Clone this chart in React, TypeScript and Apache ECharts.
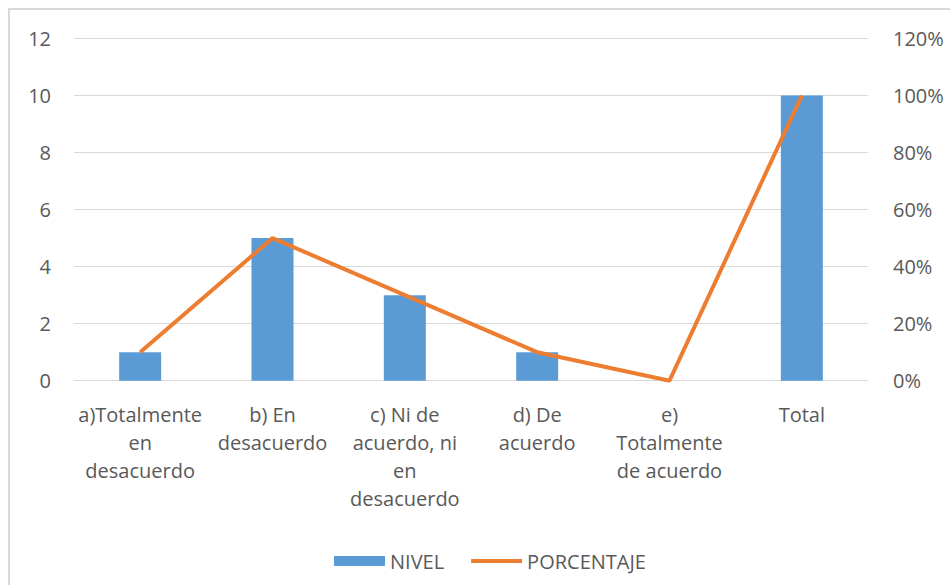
import React, { useEffect, useRef } from "react";
import * as echarts from "echarts";

const categories = [
  "a)Totalmente\nen\ndesacuerdo",
  "b) En\ndesacuerdo",
  "c) Ni de\nacuerdo, ni\nen\ndesacuerdo",
  "d) De\nacuerdo",
  "e)\nTotalmente\nde acuerdo",
  "Total",
];
const nivel = [1, 5, 3, 1, 0, 10];
const porcentaje = [0.1, 0.5, 0.3, 0.1, 0, 1.0];

const FONT = "'Open Sans', sans-serif";
const TXT = "#595959";
const GRID = "#d9d9d9";
const ORANGE = "#ED7D31";
const BLUE = "#5B9BD5";

export default function App() {
  const ref = useRef<HTMLDivElement>(null);
  useEffect(() => {
    if (!ref.current) return;
    const chart = echarts.init(ref.current, undefined, { renderer: "svg" });
    chart.setOption({
      animation: false,
      textStyle: { fontFamily: FONT },
      grid: { left: 64, right: 82, top: 28.5, bottom: 204.3, containLabel: false },
      legend: {
        left: 319,
        top: 536,
        itemWidth: 51,
        itemHeight: 10,
        itemGap: 27,
        textStyle: { fontFamily: FONT, fontSize: 20, color: TXT },
        data: [
          { name: "NIVEL", icon: "rect" },
          {
            name: "PORCENTAJE",
            icon: "path://M0,0 M0,3 L51,3 L51,7 L0,7 Z M51,10",
            itemStyle: { color: ORANGE, borderWidth: 0 },
          },
        ],
      },
      xAxis: {
        type: "category",
        data: categories,
        axisLine: { lineStyle: { color: GRID, width: 1 } },
        axisTick: { show: false },
        axisLabel: {
          interval: 0,
          margin: 20,
          fontFamily: FONT,
          fontSize: 20,
          lineHeight: 28,
          color: TXT,
          align: "center",
        },
      },
      yAxis: [
        {
          type: "value",
          min: 0,
          max: 12,
          interval: 2,
          axisLine: { show: false },
          axisTick: { show: false },
          splitLine: { lineStyle: { color: GRID, width: 1 } },
          axisLabel: { margin: 23, fontFamily: FONT, fontSize: 20, color: TXT },
        },
        {
          type: "value",
          min: 0,
          max: 1.2,
          interval: 0.2,
          axisLine: { show: false },
          axisTick: { show: false },
          splitLine: { show: false },
          axisLabel: {
            margin: 25,
            fontFamily: FONT,
            fontSize: 20,
            color: TXT,
            formatter: (v: number) => Math.round(v * 100) + "%",
          },
        },
      ],
      series: [
        {
          name: "NIVEL",
          type: "bar",
          data: nivel,
          barWidth: 42,
          itemStyle: { color: BLUE },
        },
        {
          name: "PORCENTAJE",
          type: "line",
          yAxisIndex: 1,
          data: porcentaje,
          symbol: "none",
          lineStyle: { color: ORANGE, width: 4 },
          itemStyle: { color: ORANGE },
        },
      ],
    });
    return () => chart.dispose();
  }, []);
  return (
    <div
      style={{
        position: "absolute",
        left: 8,
        top: 8,
        width: 942,
        height: 577,
        borderLeft: `2px solid ${GRID}`,
        borderTop: `2px solid ${GRID}`,
        boxSizing: "border-box",
        overflow: "hidden",
      }}
    >
      <div ref={ref} style={{ width: 940, height: 575 }} />
    </div>
  );
}
